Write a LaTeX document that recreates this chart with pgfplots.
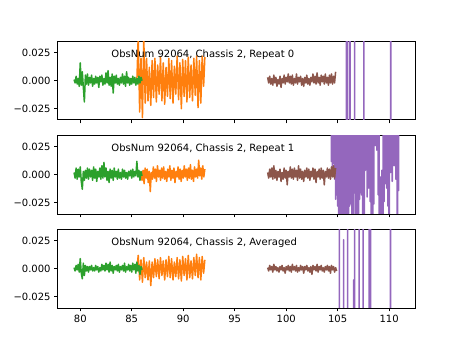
\documentclass[border=0pt]{standalone}
\usepackage{pgfplots}
\pgfplotsset{compat=1.18}
\usepackage{fontspec}
\setmainfont{DejaVu Sans}
\definecolor{cgreen}{HTML}{2CA02C}
\definecolor{corange}{HTML}{FF7F0E}
\definecolor{cbrown}{HTML}{8C564B}
\definecolor{cpurple}{HTML}{9467BD}
\pgfplotsset{
  panel/.style={
    scale only axis, width=357.3bp, height=78.35bp, anchor=south west,
    xmin=77.8, xmax=112.5, ymin=-0.035, ymax=0.035,
    xtick={80,85,90,95,100,105,110},
    ytick={-0.025,0,0.025},
    yticklabels={−0.025,0.000,0.025},
    scaled y ticks=false, scaled x ticks=false,
    tick align=outside, tick pos=left,
    major tick length=3.5bp,
    every tick/.style={black, line width=0.8bp},
    axis line style={line width=0.8bp},
    tick label style={font=\fontsize{10bp}{12bp}\selectfont},
    clip=true,
  },
  ser/.style={line width=1.5bp, line join=round, no markers},
}
\begin{document}
\begin{tikzpicture}
\path[use as bounding box] (0,0) rectangle (461bp,346bp);
% ---------------- Panel 1: Repeat 0
\begin{axis}[panel, at={(57.6bp,226.1bp)}, xticklabels={}]
\addplot[ser, corange] coordinates {(85.50,0.000)(85.63,0.040)(85.77,-0.028)(85.90,0.020)(86.04,-0.033)(86.17,0.038)(86.31,-0.020)(86.44,0.020)(86.58,-0.018)(86.71,0.012)(86.85,-0.022)(86.98,0.018)(87.12,-0.015)(87.25,0.020)(87.39,-0.019)(87.52,0.014)(87.66,-0.012)(87.79,0.021)(87.93,-0.018)(88.06,0.016)(88.20,-0.021)(88.33,0.012)(88.47,-0.014)(88.60,0.020)(88.74,-0.016)(88.87,0.018)(89.01,-0.020)(89.14,0.013)(89.28,-0.012)(89.41,0.022)(89.55,-0.017)(89.68,0.016)(89.82,-0.025)(89.95,0.019)(90.09,-0.014)(90.22,0.018)(90.36,-0.019)(90.49,0.021)(90.63,-0.015)(90.76,0.014)(90.90,-0.018)(91.03,0.020)(91.17,-0.013)(91.30,0.022)(91.44,-0.024)(91.57,0.018)(91.71,-0.020)(91.84,0.022)(91.98,-0.005)(92.10,0.021)};
\addplot[ser, cgreen] coordinates {(79.4,0.001)(79.5,-0.002)(79.6,0.004)(79.7,-0.003)(79.8,0.002)(79.9,-0.005)(80.0,0.016)(80.1,-0.004)(80.2,0.008)(80.3,-0.006)(80.4,-0.019)(80.5,0.005)(80.6,-0.003)(80.7,0.006)(80.8,-0.004)(80.9,0.003)(81.0,-0.002)(81.1,0.005)(81.2,-0.005)(81.3,0.002)(81.4,-0.003)(81.5,0.004)(81.6,-0.002)(81.7,0.003)(81.8,-0.006)(81.9,0.004)(82.0,-0.001)(82.1,0.005)(82.2,-0.004)(82.3,0.002)(82.4,-0.003)(82.5,0.007)(82.6,-0.002)(82.7,0.009)(82.8,-0.004)(82.9,0.003)(83.0,-0.005)(83.1,0.006)(83.2,-0.011)(83.3,0.004)(83.4,-0.002)(83.5,0.005)(83.6,-0.003)(83.7,0.002)(83.8,-0.004)(83.9,0.003)(84.0,-0.002)(84.1,0.006)(84.2,-0.003)(84.3,0.004)(84.4,-0.005)(84.5,0.008)(84.6,-0.002)(84.7,0.003)(84.8,-0.004)(84.9,0.002)(85.0,-0.003)(85.1,0.004)(85.2,-0.002)(85.3,0.003)(85.4,-0.004)(85.5,0.002)(85.6,-0.003)(85.7,0.004)(85.8,-0.002)(85.9,0.003)(86.0,0.000)};
\addplot[ser, cpurple] coordinates {(104.9,0.5)(105.84,0.5)(105.85,-0.5)(105.86,0.5)(105.94,0.5)(105.95,-0.5)(105.96,0.5)(106.19,0.5)(106.2,-0.5)(106.21,0.5)(106.64,0.5)(106.65,-0.5)(106.66,0.5)(107.54,0.5)(107.55,-0.5)(107.56,0.5)(110.14,0.5)(110.15,-0.5)(110.16,0.5)(110.93,0.5)};
\addplot[ser, cbrown] coordinates {(98.2,0.003)(98.3,-0.002)(98.4,0.004)(98.5,-0.003)(98.6,0.002)(98.7,-0.004)(98.8,0.005)(98.9,-0.002)(99.0,0.003)(99.1,-0.005)(99.2,0.001)(99.3,-0.003)(99.4,0.004)(99.5,-0.006)(99.6,0.002)(99.7,-0.002)(99.8,0.005)(99.9,-0.003)(100.0,0.003)(100.1,-0.001)(100.2,0.006)(100.3,-0.002)(100.4,0.004)(100.5,-0.003)(100.6,0.005)(100.7,-0.004)(100.8,0.002)(100.9,-0.002)(101.0,0.006)(101.1,-0.003)(101.2,0.003)(101.3,-0.001)(101.4,0.004)(101.5,-0.004)(101.6,0.002)(101.7,-0.005)(101.8,0.003)(101.9,-0.002)(102.0,0.005)(102.1,-0.003)(102.2,0.002)(102.3,-0.004)(102.4,0.003)(102.5,-0.001)(102.6,0.006)(102.7,-0.002)(102.8,0.004)(102.9,-0.003)(103.0,0.007)(103.1,-0.002)(103.2,0.003)(103.3,-0.004)(103.4,0.005)(103.5,-0.001)(103.6,0.004)(103.7,-0.003)(103.8,0.006)(103.9,-0.002)(104.0,0.003)(104.1,-0.004)(104.2,0.005)(104.3,-0.002)(104.4,0.006)(104.5,-0.003)(104.6,0.004)(104.7,-0.002)(104.8,0.008)};
\node[anchor=base west, inner sep=0pt, font=\fontsize{10bp}{12bp}\selectfont] at (rel axis cs:0.15,0.8) {ObsNum 92064, Chassis 2, Repeat 0};
\end{axis}
% ---------------- Panel 2: Repeat 1
\begin{axis}[panel, at={(57.6bp,132.08bp)}, xticklabels={}]
\addplot[ser, corange] coordinates {(85.9,0.001)(86.0,-0.005)(86.1,0.004)(86.2,-0.008)(86.3,0.006)(86.4,-0.003)(86.5,0.005)(86.6,-0.007)(86.7,0.003)(86.8,-0.015)(86.9,0.002)(87.0,-0.004)(87.1,0.007)(87.2,-0.003)(87.3,0.005)(87.4,-0.006)(87.5,0.008)(87.6,-0.002)(87.7,0.004)(87.8,-0.005)(87.9,0.006)(88.0,-0.003)(88.1,0.007)(88.2,-0.004)(88.3,0.003)(88.4,-0.006)(88.5,0.005)(88.6,-0.002)(88.7,0.008)(88.8,-0.005)(88.9,0.004)(89.0,-0.003)(89.1,0.006)(89.2,-0.007)(89.3,0.003)(89.4,-0.002)(89.5,0.007)(89.6,-0.004)(89.7,0.005)(89.8,-0.006)(89.9,0.004)(90.0,-0.003)(90.1,0.008)(90.2,-0.002)(90.3,0.005)(90.4,-0.005)(90.5,0.006)(90.6,-0.003)(90.7,0.009)(90.8,-0.004)(90.9,0.004)(91.0,-0.006)(91.1,0.007)(91.2,-0.002)(91.3,0.005)(91.4,-0.003)(91.5,0.013)(91.6,-0.001)(91.7,0.006)(91.8,-0.004)(91.9,0.008)(92.0,-0.002)(92.1,0.005)};
\addplot[ser, cgreen] coordinates {(79.4,0.002)(79.5,-0.003)(79.6,0.006)(79.7,-0.004)(79.8,0.005)(79.9,-0.002)(80.0,0.007)(80.1,-0.006)(80.2,-0.013)(80.3,0.003)(80.4,-0.005)(80.5,0.004)(80.6,-0.003)(80.7,0.006)(80.8,-0.004)(80.9,0.005)(81.0,-0.002)(81.1,0.004)(81.2,-0.005)(81.3,0.007)(81.4,-0.003)(81.5,0.005)(81.6,-0.006)(81.7,0.003)(81.8,-0.002)(81.9,0.006)(82.0,-0.004)(82.1,0.008)(82.2,-0.003)(82.3,0.011)(82.4,-0.002)(82.5,0.006)(82.6,-0.005)(82.7,0.003)(82.8,-0.007)(82.9,0.005)(83.0,-0.003)(83.1,0.004)(83.2,-0.005)(83.3,0.006)(83.4,-0.002)(83.5,0.003)(83.6,-0.004)(83.7,0.005)(83.8,-0.003)(83.9,0.002)(84.0,-0.004)(84.1,0.005)(84.2,-0.002)(84.3,0.004)(84.4,-0.003)(84.5,0.002)(84.6,-0.004)(84.7,0.003)(84.8,-0.001)(84.9,0.004)(85.0,-0.003)(85.1,0.005)(85.2,-0.002)(85.3,0.003)(85.4,-0.001)(85.5,0.012)(85.6,-0.002)(85.7,0.004)(85.8,-0.005)(85.9,0.003)(86.0,-0.001)};
\addplot[ser, cpurple] coordinates {(104.35,0.5)(104.38,0.012)(104.44,0.5)(104.48,0.006)(104.54,0.5)(104.58,0.010)(104.64,0.5)(104.70,-0.004)(104.76,0.5)(104.80,-0.022)(104.86,0.5)(104.90,-0.018)(104.96,0.5)(105.00,-0.028)(105.06,0.5)(105.12,-0.5)(105.18,0.5)(105.24,-0.5)(105.30,0.5)(105.36,-0.5)(105.42,0.5)(105.48,-0.5)(105.54,0.5)(105.60,-0.5)(105.66,0.5)(105.70,0.010)(105.74,0.5)(105.80,-0.5)(105.86,0.5)(105.92,-0.5)(105.98,0.5)(106.04,-0.5)(106.10,0.5)(106.16,-0.028)(106.22,0.5)(106.28,-0.026)(106.34,0.5)(106.40,-0.5)(106.46,0.5)(106.52,-0.5)(106.58,0.5)(106.64,-0.010)(106.70,0.5)(106.76,-0.5)(106.82,0.5)(106.88,-0.5)(106.94,0.5)(107.00,-0.5)(107.06,0.5)(107.12,-0.022)(107.18,0.5)(107.22,-0.016)(107.26,0.5)(107.32,-0.018)(107.38,0.5)(107.44,-0.5)(107.50,0.5)(107.56,-0.5)(107.62,0.5)(107.70,0.004)(107.78,0.5)(107.86,-0.020)(107.94,0.5)(108.02,-0.012)(108.10,0.5)(108.16,-0.024)(108.22,0.5)(108.28,-0.5)(108.34,0.5)(108.40,-0.5)(108.46,0.5)(108.52,-0.026)(108.58,0.5)(108.66,0.026)(108.74,0.5)(108.80,0.022)(108.88,0.5)(108.94,-0.018)(109.00,0.5)(109.06,-0.5)(109.14,-0.002)(109.22,-0.5)(109.30,0.004)(109.38,-0.5)(109.44,0.5)(109.50,-0.024)(109.56,0.5)(109.62,-0.008)(109.70,0.5)(109.76,-0.012)(109.82,0.5)(109.88,-0.028)(109.94,0.5)(110.00,-0.5)(110.06,0.5)(110.14,0.002)(110.22,0.5)(110.30,-0.006)(110.40,0.5)(110.48,0.008)(110.56,0.5)(110.66,-0.004)(110.74,0.5)(110.80,-0.5)(110.86,0.5)(110.92,-0.014)(110.96,0.5)};
\addplot[ser, cbrown] coordinates {(98.2,0.002)(98.3,-0.003)(98.4,0.005)(98.5,-0.002)(98.6,0.006)(98.7,-0.004)(98.8,0.008)(98.9,-0.003)(99.0,0.004)(99.1,-0.005)(99.2,0.003)(99.3,-0.002)(99.4,0.005)(99.5,-0.006)(99.6,0.002)(99.7,-0.004)(99.8,0.006)(99.9,-0.003)(100.0,0.004)(100.1,-0.009)(100.2,0.003)(100.3,-0.002)(100.4,0.007)(100.5,-0.003)(100.6,0.005)(100.7,-0.004)(100.8,0.006)(100.9,-0.002)(101.0,0.004)(101.1,-0.005)(101.2,0.008)(101.3,-0.003)(101.4,0.005)(101.5,-0.004)(101.6,0.003)(101.7,-0.006)(101.8,0.004)(101.9,-0.002)(102.0,0.006)(102.1,-0.003)(102.2,0.005)(102.3,-0.005)(102.4,0.003)(102.5,-0.002)(102.6,0.006)(102.7,-0.004)(102.8,0.005)(102.9,-0.007)(103.0,0.003)(103.1,-0.002)(103.2,0.005)(103.3,-0.004)(103.4,0.006)(103.5,-0.003)(103.6,0.004)(103.7,-0.009)(103.8,0.003)(103.9,-0.002)(104.0,0.006)(104.1,-0.003)(104.2,0.005)(104.3,-0.004)(104.4,0.007)(104.5,-0.002)(104.6,0.008)(104.7,-0.003)(104.8,0.006)};
\node[anchor=base west, inner sep=0pt, font=\fontsize{10bp}{12bp}\selectfont] at (rel axis cs:0.15,0.8) {ObsNum 92064, Chassis 2, Repeat 1};
\end{axis}
% ---------------- Panel 3: Averaged
\begin{axis}[panel, at={(57.6bp,38.06bp)}, xticklabels={80,85,90,95,100,105,110}]
\addplot[ser, corange] coordinates {(85.50,0.000)(85.63,0.012)(85.77,-0.010)(85.90,0.008)(86.04,-0.012)(86.17,0.010)(86.31,-0.008)(86.44,0.006)(86.58,-0.010)(86.71,0.007)(86.85,-0.015)(86.98,0.006)(87.12,-0.008)(87.25,0.009)(87.39,-0.007)(87.52,0.008)(87.66,-0.009)(87.79,0.010)(87.93,-0.006)(88.06,0.007)(88.20,-0.010)(88.33,0.008)(88.47,-0.007)(88.60,0.011)(88.74,-0.008)(88.87,0.009)(89.01,-0.010)(89.14,0.006)(89.28,-0.007)(89.41,0.010)(89.55,-0.009)(89.68,0.008)(89.82,-0.011)(89.95,0.011)(90.09,-0.006)(90.22,0.009)(90.36,-0.010)(90.49,0.012)(90.63,-0.008)(90.76,0.007)(90.90,-0.009)(91.03,0.010)(91.17,-0.006)(91.30,0.013)(91.44,-0.008)(91.57,0.010)(91.71,-0.010)(91.84,0.011)(91.98,-0.004)(92.10,0.008)};
\addplot[ser, cgreen] coordinates {(79.4,0.001)(79.5,-0.002)(79.6,0.003)(79.7,-0.001)(79.8,0.004)(79.9,-0.003)(80.0,0.009)(80.1,-0.004)(80.2,-0.009)(80.3,0.005)(80.4,-0.006)(80.5,0.003)(80.6,-0.002)(80.7,0.002)(80.8,-0.003)(80.9,0.002)(81.0,-0.001)(81.1,0.003)(81.2,-0.002)(81.3,0.001)(81.4,-0.002)(81.5,0.003)(81.6,-0.001)(81.7,0.002)(81.8,-0.003)(81.9,0.001)(82.0,-0.002)(82.1,0.004)(82.2,-0.001)(82.3,0.003)(82.4,-0.002)(82.5,0.005)(82.6,-0.001)(82.7,0.004)(82.8,-0.003)(82.9,0.006)(83.0,-0.002)(83.1,0.003)(83.2,-0.004)(83.3,0.002)(83.4,-0.001)(83.5,0.003)(83.6,-0.002)(83.7,0.004)(83.8,-0.003)(83.9,0.002)(84.0,-0.001)(84.1,0.003)(84.2,-0.002)(84.3,0.005)(84.4,-0.003)(84.5,0.002)(84.6,-0.001)(84.7,0.004)(84.8,-0.002)(84.9,0.003)(85.0,-0.003)(85.1,0.005)(85.2,-0.001)(85.3,0.004)(85.4,-0.004)(85.5,0.006)(85.6,-0.002)(85.7,0.003)(85.8,-0.005)(85.9,0.002)(86.0,-0.001)};
\addplot[ser, cpurple] coordinates {(104.9,-0.5)(105.16,-0.5)(105.17,0.5)(105.18,-0.5)(105.57,-0.5)(105.58,0.026)(105.59,-0.5)(105.96,-0.5)(105.97,0.5)(105.98,-0.5)(106.55,-0.5)(106.56,-0.010)(106.57,-0.5)(106.64,-0.5)(106.65,0.5)(106.66,-0.5)(107.07,-0.5)(107.08,0.5)(107.09,-0.5)(107.46,-0.5)(107.47,0.5)(107.48,-0.5)(108.05,-0.5)(108.06,0.5)(108.07,-0.5)(108.19,-0.5)(108.2,0.5)(108.21,-0.5)(110.12,-0.5)(110.13,0.5)(110.14,-0.5)(110.93,-0.5)};
\addplot[ser, cbrown] coordinates {(98.2,0.001)(98.3,-0.002)(98.4,0.003)(98.5,-0.001)(98.6,0.002)(98.7,-0.003)(98.8,0.004)(98.9,-0.001)(99.0,0.002)(99.1,-0.002)(99.2,0.001)(99.3,-0.003)(99.4,0.002)(99.5,-0.001)(99.6,0.003)(99.7,-0.002)(99.8,0.001)(99.9,-0.004)(100.0,0.002)(100.1,-0.001)(100.2,0.003)(100.3,-0.002)(100.4,0.002)(100.5,-0.003)(100.6,0.004)(100.7,-0.001)(100.8,0.002)(100.9,-0.002)(101.0,0.003)(101.1,-0.003)(101.2,0.001)(101.3,-0.002)(101.4,0.003)(101.5,-0.001)(101.6,0.002)(101.7,-0.004)(101.8,0.002)(101.9,-0.001)(102.0,0.003)(102.1,-0.002)(102.2,0.001)(102.3,-0.003)(102.4,0.002)(102.5,-0.005)(102.6,0.003)(102.7,-0.001)(102.8,0.002)(102.9,-0.002)(103.0,0.004)(103.1,-0.003)(103.2,0.002)(103.3,-0.001)(103.4,0.003)(103.5,-0.002)(103.6,0.001)(103.7,-0.003)(103.8,0.002)(103.9,-0.001)(104.0,0.003)(104.1,-0.002)(104.2,0.002)(104.3,-0.004)(104.4,0.003)(104.5,-0.001)(104.6,0.002)(104.7,-0.003)(104.8,0.001)(104.9,-0.002)};
\node[anchor=base west, inner sep=0pt, font=\fontsize{10bp}{12bp}\selectfont] at (rel axis cs:0.15,0.8) {ObsNum 92064, Chassis 2, Averaged};
\end{axis}
\end{tikzpicture}
\end{document}
